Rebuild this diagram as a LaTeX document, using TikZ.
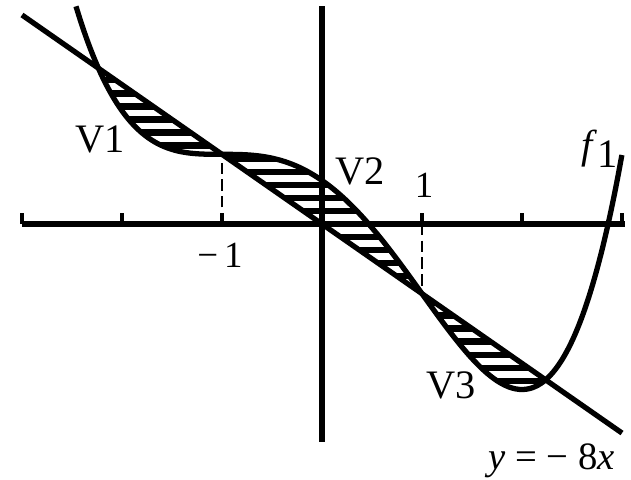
\documentclass[tikz,border=0pt]{standalone}
\usepackage{fontspec}
\setmainfont{Liberation Serif}
\usetikzlibrary{positioning}

\begin{document}
\begin{tikzpicture}[x=2cm, y=0.1742cm,
        declare function={fone(\t)=(\t*\t-1)*(\t*\t-5)-8*\t;},
        axis/.style={line width=3.5pt, black},
        tickmark/.style={line width=2.8pt, black},
        graph/.style={line width=3pt, black},
        hatch/.style={line width=3.6pt, black},
        guide/.style={line width=1.2pt, black, dash pattern=on 6.5pt off 3pt},
        lbl/.style={font=\fontsize{23}{26}\selectfont, inner sep=0pt},
        num/.style={font=\fontsize{21}{24}\selectfont, inner sep=0pt},
    ]
    \useasboundingbox (-3.22,-29.28) rectangle (3.09,25.72);
    % hatched areas between f1 and y=-8x
    \begin{scope}
        \clip plot[domain=-2.2361:2.2361, samples=100, smooth] (\x,{fone(\x)}) -- (-2.2361,17.889) -- cycle;
        \foreach \yy in {-19.5,-18,...,18}
            \draw[hatch] (-2.4,\yy) -- (2.4,\yy);
    \end{scope}
    \coordinate (xl) at (-3,0);
    \coordinate (xr) at (3.03,0);
    \coordinate (yb) at (0,-25);
    \coordinate (yt) at (0,25);
    \draw[axis] (xl) -- (xr);
    \draw[axis] (yb) -- (yt);
    \foreach \t in {-3,-2,-1,1,2,3}
        \draw[tickmark] (\t,0) -- (\t,1.3);
    % straight line and the curve
    \coordinate (ls) at (-3,24);
    \coordinate (le) at (3,-24);
    \draw[graph] (ls) -- (le);
    \draw[graph] plot[domain=-2.46:3.0, samples=150, smooth] (\x,{fone(\x)});
    \coordinate (gl) at (-1,8);
    \coordinate (gr) at (1,-8);
    \draw[guide] (-1,0) -- (gl);
    \draw[guide] (1,0) -- (gr);
    \node[lbl] (v1) at (-2.22,9.76) {V1};
    \node[lbl] (v2) at (0.38,6.08) {V2};
    \node[lbl] (v3) at (1.29,-18.48) {V3};
    \node[num] (one) at (1.02,4.48) {1};
    \node[num] (mone) at (-1.02,-3.56) {−\,1};
    \node[lbl] (fname) at (2.78,8.6) {\textit{f}\raisebox{-5pt}{1}};
    \node[num, font=\fontsize{22}{24}\selectfont, anchor=base east] (eq) at (2.93,-28.24) {\textit{y} = − 8\textit{x}};
\end{tikzpicture}
\end{document}
